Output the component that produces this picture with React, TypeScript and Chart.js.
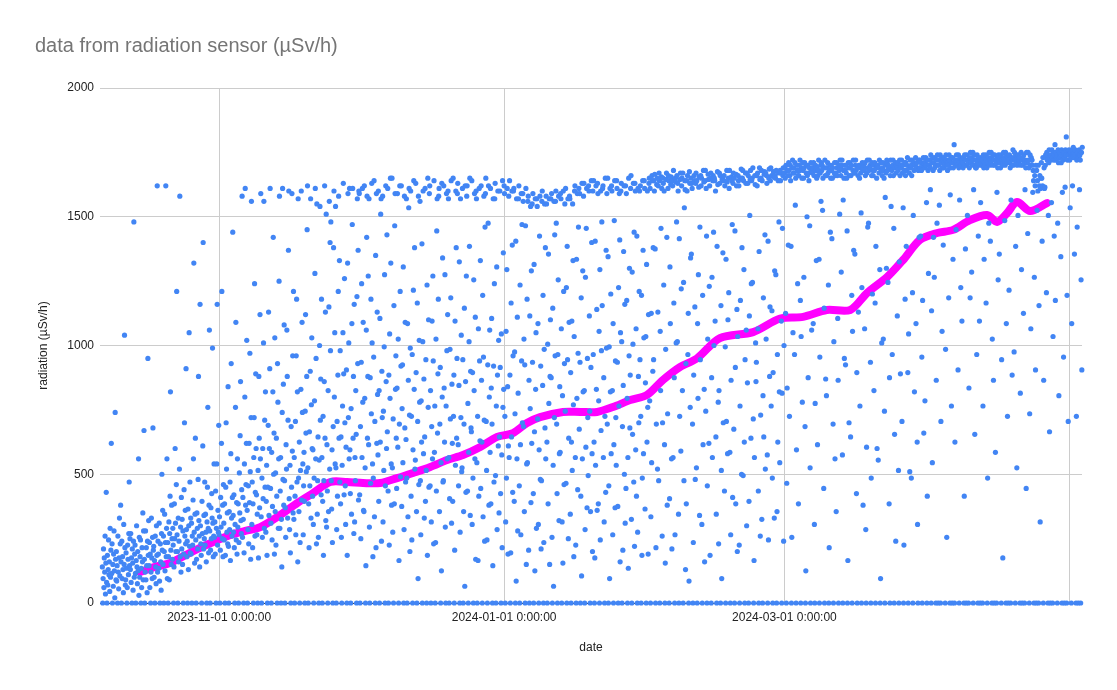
import { useEffect, useRef } from "react";
import { Chart, registerables } from "chart.js";

Chart.register(...registerables);

// sensor readings every 2 hours (12 per day), one line per day
const READS_PER_DAY = 12;

const octReadings = [
  140, 0, 95, 210, 60, 175, 120, 260, 35, 155, 430, 80,
  0, 185, 70, 130, 245, 110, 160, 45, 290, 100, 205, 620,
  115, 230, 0, 150, 65, 190, 280, 125, 20, 740, 170, 90,
  200, 85, 145, 0, 260, 120, 55, 175, 330, 105, 230, 380,
  160, 0, 240, 95, 180, 130, 40, 305, 150, 1040, 215, 70,
  90, 195, 135, 0, 60, 225, 170, 110, 270, 470, 145, 250,
  130, 270, 80, 175, 0, 210, 155, 50, 240, 1480, 100, 190,
  225, 115, 0, 165, 300, 140, 75, 200, 125, 560, 30, 255,
  100, 180, 245, 0, 135, 60, 215, 160, 350, 90, 280, 670,
  170, 0, 120, 280, 90, 215, 145, 40, 240, 950, 185, 320,
  145, 235, 60, 190, 0, 120, 330, 175, 95, 255, 680, 205,
  220, 100, 165, 0, 260, 140, 75, 300, 185, 1620, 120, 240,
  190, 135, 310, 85, 0, 230, 160, 50, 270, 500, 205, 360,
  150, 260, 0, 200, 345, 125, 235, 1620, 180, 290, 560, 95,
  235, 0, 180, 315, 90, 270, 415, 820, 205, 150, 380, 250,
  170, 290, 225, 0, 140, 385, 250, 600, 310, 200, 460, 1210,
  265, 200, 0, 330, 160, 240, 520, 1580, 180, 295, 120, 410,
  210, 325, 150, 280, 0, 190, 440, 700, 260, 360, 230, 910,
  285, 180, 240, 0, 365, 130, 300, 1050, 220, 470, 195, 330,
  190, 310, 0, 260, 225, 400, 560, 1320, 275, 155, 345, 640,
  245, 0, 170, 350, 290, 210, 480, 880, 320, 260, 140, 1160,
  300, 230, 185, 0, 395, 270, 610, 1400, 210, 340, 250, 470,
  225, 345, 275, 160, 0, 315, 450, 760, 290, 195, 380, 1060,
  280, 0, 205, 370, 250, 425, 330, 990, 310, 180, 260, 540,
  255, 315, 190, 435, 0, 290, 540, 1160, 225, 360, 275, 690,
];

const novReadings = [
  265, 335, 0, 205, 410, 295, 620, 1210, 250, 380, 180, 460,
  310, 245, 385, 0, 185, 450, 700, 520, 275, 350, 230, 840,
  220, 0, 355, 285, 470, 165, 580, 930, 330, 260, 410, 1440,
  340, 275, 420, 215, 0, 305, 760, 1090, 245, 390, 190, 560,
  295, 385, 0, 235, 505, 350, 650, 860, 320, 270, 440, 1580,
  255, 410, 325, 0, 195, 540, 800, 1610, 380, 460, 620, 1020,
  360, 0, 285, 455, 230, 620, 390, 970, 510, 170, 720, 1560,
  305, 470, 215, 385, 0, 565, 720, 1240, 260, 430, 890, 600,
  420, 265, 345, 0, 515, 175, 880, 640, 370, 1120, 560, 1590,
  335, 0, 485, 255, 600, 405, 1010, 1560, 290, 710, 450, 820,
  275, 395, 535, 185, 0, 450, 690, 1130, 340, 600, 910, 1610,
  445, 310, 0, 585, 245, 375, 820, 1420, 500, 660, 190, 1030,
  355, 505, 225, 640, 415, 0, 930, 780, 290, 560, 1250, 1580,
  290, 435, 565, 0, 325, 140, 740, 1610, 480, 850, 380, 1080,
  475, 0, 370, 255, 615, 520, 1060, 880, 330, 710, 1370, 1600,
  405, 285, 535, 195, 0, 685, 450, 1590, 590, 960, 350, 1210,
  325, 565, 0, 415, 705, 265, 960, 1180, 470, 820, 160, 1570,
  485, 355, 625, 0, 235, 515, 830, 1600, 400, 1090, 740, 540,
  265, 455, 585, 395, 0, 745, 1120, 660, 510, 880, 1450, 1620,
  525, 0, 385, 215, 665, 455, 900, 1570, 330, 770, 1030, 600,
  415, 595, 305, 0, 485, 785, 1280, 1610, 560, 950, 230, 1550,
  345, 475, 645, 255, 0, 555, 1000, 1540, 710, 870, 420, 1180,
  565, 0, 395, 725, 185, 475, 860, 1620, 640, 1130, 320, 1510,
  295, 615, 435, 0, 825, 355, 1150, 1560, 520, 1400, 980, 1480,
  475, 365, 595, 235, 0, 685, 1380, 1600, 800, 1050, 540, 1540,
  525, 0, 285, 705, 415, 885, 1210, 1580, 640, 1330, 470, 980,
  385, 645, 255, 0, 535, 765, 1050, 1630, 890, 420, 1260, 700,
  455, 305, 605, 905, 0, 185, 1320, 1590, 720, 1010, 560, 1610,
  595, 425, 0, 755, 345, 1085, 1470, 1610, 640, 880, 270, 1160,
  315, 565, 475, 825, 655, 0, 1190, 1570, 930, 1370, 400, 1600,
];

const decReadings = [
  1590, 420, 0, 685, 250, 935, 1240, 565, 1610, 780, 1090, 360,
  355, 1620, 795, 525, 0, 145, 1060, 1420, 1580, 640, 880, 1270,
  615, 1570, 295, 0, 875, 465, 1180, 735, 1630, 1010, 540, 180,
  485, 955, 1640, 335, 705, 0, 1350, 215, 1590, 620, 1130, 810,
  575, 1600, 395, 825, 0, 1105, 625, 1510, 1570, 240, 900, 720,
  1580, 315, 745, 515, 995, 1275, 0, 455, 1620, 860, 600, 1430,
  665, 1610, 435, 0, 885, 225, 1045, 795, 1650, 1320, 540, 380,
  1650, 525, 275, 715, 0, 1155, 385, 1465, 1590, 830, 960, 640,
  445, 835, 1590, 605, 1025, 0, 165, 695, 1620, 1210, 490, 920,
  1620, 375, 755, 925, 545, 1305, 0, 285, 1580, 680, 1090, 470,
  635, 1570, 485, 0, 1085, 335, 865, 1535, 1610, 730, 200, 990,
  1600, 415, 725, 245, 965, 0, 595, 1215, 1640, 830, 1380, 520,
  555, 1630, 895, 355, 0, 1165, 705, 95, 1580, 460, 1020, 780,
  1560, 475, 265, 785, 625, 1395, 0, 1015, 1600, 580, 870, 330,
  645, 1610, 395, 945, 515, 0, 1235, 185, 1650, 760, 1100, 450,
  1590, 1620, 455, 825, 0, 315, 685, 1095, 560, 1270, 940, 230,
  1640, 585, 765, 0, 235, 1025, 435, 1445, 1570, 660, 890, 1180,
  1580, 1610, 355, 695, 915, 0, 545, 125, 1630, 800, 1340, 470,
  475, 1620, 835, 625, 1275, 295, 0, 765, 1590, 980, 560, 1120,
  1600, 1570, 565, 0, 405, 985, 715, 1185, 1640, 310, 850, 620,
  395, 1650, 725, 885, 0, 205, 1095, 535, 1600, 1380, 640, 950,
  1590, 1630, 615, 455, 845, 1325, 0, 275, 1570, 720, 1040, 510,
  525, 1610, 945, 0, 355, 695, 1145, 65, 1620, 860, 430, 1270,
  1580, 1620, 435, 775, 0, 585, 1015, 1385, 1650, 340, 900, 680,
  665, 1640, 305, 895, 485, 0, 1255, 825, 1590, 560, 1110, 170,
  1600, 1570, 545, 0, 725, 165, 1065, 415, 1610, 940, 630, 1330,
  445, 1620, 865, 625, 0, 1195, 335, 955, 1580, 710, 240, 1460,
  1590, 1650, 705, 515, 245, 0, 925, 1475, 1620, 380, 800, 1060,
  585, 1610, 385, 835, 1105, 695, 0, 145, 1570, 920, 470, 1240,
  1570, 1630, 495, 0, 765, 1305, 285, 885, 1600, 610, 1020, 350,
  645, 1600, 915, 425, 0, 1045, 575, 215, 1640, 760, 1360, 830,
];

const janReadings = [
  1620, 1590, 725, 0, 315, 1055, 485, 1295, 1610, 840, 190, 610,
  1580, 565, 1640, 885, 0, 195, 1165, 645, 1600, 1390, 430, 960,
  1600, 1610, 395, 975, 735, 0, 1405, 85, 1570, 560, 1110, 280,
  815, 1570, 1620, 455, 0, 1235, 615, 265, 1590, 940, 1470, 700,
  1590, 1560, 685, 1025, 355, 925, 0, 1465, 1610, 150, 540, 1180,
  545, 1560, 1580, 205, 865, 0, 1115, 755, 1540, 390, 1290, 620,
  1550, 935, 1590, 425, 0, 1315, 665, 125, 1570, 830, 1050, 290,
  1570, 1540, 715, 1085, 305, 0, 595, 1425, 1580, 480, 920, 210,
  475, 1560, 1600, 845, 1195, 0, 235, 985, 1550, 680, 1380, 560,
  1580, 1550, 625, 0, 1005, 385, 1355, 775, 1570, 150, 880, 1100,
  1570, 875, 1590, 255, 0, 1145, 535, 65, 1560, 720, 1430, 960,
  1560, 1600, 1475, 695, 425, 0, 965, 1255, 1580, 320, 580, 840,
  585, 1590, 1570, 1065, 0, 315, 805, 155, 1600, 1210, 460, 930,
  1550, 745, 1610, 465, 1225, 0, 1385, 945, 1570, 250, 640, 1090,
  1580, 1570, 345, 895, 0, 625, 1095, 515, 1550, 1330, 770, 180,
  1035, 1600, 1620, 565, 225, 0, 1335, 795, 1590, 440, 970, 1460,
  1610, 675, 1590, 935, 0, 415, 1185, 105, 1630, 560, 1290, 820,
  1580, 1630, 825, 0, 285, 1265, 605, 1455, 1610, 370, 950, 720,
  495, 1620, 1600, 1115, 745, 0, 355, 915, 1640, 1400, 580, 200,
  1600, 965, 1640, 625, 0, 175, 1405, 535, 1620, 830, 1140, 360,
  1630, 1590, 385, 785, 1055, 0, 1295, 245, 1600, 670, 980, 1480,
  1155, 1610, 1620, 565, 875, 315, 0, 725, 1650, 430, 1370, 990,
  1590, 695, 1650, 1345, 0, 455, 995, 95, 1610, 820, 1200, 580,
  1620, 1600, 825, 265, 1085, 0, 615, 1485, 1640, 370, 940, 720,
  535, 1640, 1610, 935, 375, 0, 1225, 765, 1590, 1410, 160, 1050,
  1600, 1630, 1015, 0, 685, 205, 845, 1365, 1620, 500, 1160, 310,
  1620, 445, 1590, 1175, 795, 0, 565, 135, 1650, 960, 1300, 680,
  885, 1610, 1660, 325, 0, 1285, 655, 1005, 1630, 470, 1440, 220,
  1630, 1600, 595, 1065, 415, 1425, 0, 275, 1610, 880, 700, 1210,
  1600, 945, 1620, 725, 0, 1195, 185, 485, 1640, 1370, 580, 1030,
  1640, 1610, 365, 855, 1035, 0, 1315, 625, 1600, 760, 190, 1120,
];

const febReadings = [
  1630, 1650, 785, 1610, 0, 335, 1125, 545, 1660, 1640, 900, 1380,
  945, 1640, 1600, 1665, 1375, 0, 215, 695, 1625, 1650, 520, 1130,
  1620, 475, 1670, 1640, 0, 1055, 825, 1455, 1655, 1610, 260, 700,
  1650, 1630, 1235, 1600, 615, 0, 155, 985, 1645, 1670, 1420, 380,
  735, 1610, 1660, 1640, 0, 405, 1305, 1085, 1625, 1655, 560, 210,
  1640, 1620, 565, 1680, 1165, 875, 0, 265, 1650, 1635, 1010, 1480,
  1660, 1015, 1630, 1600, 345, 0, 1415, 725, 1645, 1670, 590, 1220,
  1620, 1650, 825, 1670, 0, 1245, 475, 1535, 1640, 1605, 130, 930,
  385, 1640, 1600, 1660, 965, 1125, 0, 85, 1675, 1630, 760, 1340,
  1650, 1355, 1630, 1610, 695, 0, 235, 885, 1660, 1640, 1150, 480,
  1630, 1670, 525, 1640, 0, 1085, 795, 1275, 1615, 1655, 340, 1460,
  945, 1660, 1620, 1650, 305, 0, 1195, 615, 1680, 1635, 830, 160,
  1640, 1680, 745, 1610, 1425, 0, 455, 1025, 1665, 1645, 620, 1230,
  1620, 185, 1650, 1670, 0, 875, 1265, 565, 1640, 1660, 1440, 1000,
  1650, 1640, 1095, 1600, 645, 345, 0, 1385, 1675, 1625, 780, 230,
  825, 1670, 1630, 1660, 0, 1155, 515, 95, 1645, 1650, 1360, 700,
  1640, 1660, 435, 1620, 995, 0, 1335, 705, 1680, 1635, 580, 1100,
  1650, 1205, 1610, 1680, 585, 0, 265, 865, 1655, 1640, 1470, 410,
  1630, 1670, 675, 1650, 0, 1445, 915, 385, 1665, 1620, 1140, 200,
  1035, 1660, 1640, 1620, 225, 0, 765, 1175, 1650, 1685, 500, 1380,
  1650, 1680, 495, 1640, 1295, 625, 0, 945, 1670, 1630, 1060, 300,
  1670, 855, 1630, 1660, 0, 395, 1115, 1505, 1645, 1680, 640, 1240,
  1640, 1650, 1245, 1690, 715, 0, 165, 565, 1660, 1625, 1010, 860,
  935, 1660, 1620, 1670, 1065, 435, 0, 1365, 1690, 1645, 260, 730,
  1650, 1680, 325, 1640, 0, 805, 1185, 645, 1665, 1675, 1430, 520,
  1670, 1025, 1660, 1630, 575, 0, 1405, 245, 1650, 1685, 880, 1150,
  1640, 1690, 765, 1660, 1135, 485, 0, 895, 1675, 1655, 330, 1290,
  1660, 1650, 1275, 1680, 0, 355, 965, 625, 1640, 1670, 1480, 820,
  545, 1680, 1640, 1670, 1095, 0, 815, 1455, 1660, 1690, 240, 1000,
];

const marReadings = [
  1670, 1690, 1650, 1125, 1700, 0, 465, 835, 1680, 1660, 1390, 1710,
  1680, 725, 1660, 1700, 1640, 1385, 0, 255, 1690, 1720, 1050, 1670,
  1690, 1670, 965, 1710, 1545, 1650, 0, 595, 1700, 1680, 1240, 1660,
  385, 1660, 1700, 1680, 1720, 1175, 0, 1035, 1690, 1650, 780, 1710,
  1680, 1650, 1265, 1690, 1710, 685, 0, 125, 1670, 1700, 1500, 1660,
  1700, 875, 1670, 1640, 1690, 1465, 525, 0, 1710, 1680, 1060, 1690,
  1670, 1690, 1085, 1710, 1660, 305, 0, 775, 1700, 1680, 1330, 1650,
  1690, 615, 1660, 1680, 1720, 1335, 0, 955, 1670, 1700, 1560, 1710,
  1680, 1700, 1525, 1650, 1690, 445, 1145, 0, 1720, 1660, 870, 1690,
  805, 1660, 1690, 1710, 1670, 1235, 0, 215, 1680, 1700, 1440, 1650,
  1700, 1680, 1415, 1650, 1690, 695, 0, 1015, 1670, 1710, 560, 1660,
  1670, 355, 1710, 1690, 1660, 1105, 865, 0, 1700, 1680, 1510, 1720,
  1690, 1660, 1285, 1700, 1720, 575, 0, 1565, 1680, 1650, 950, 1700,
  1680, 925, 1700, 1670, 1650, 1445, 0, 165, 1710, 1690, 700, 1660,
  1710, 1690, 645, 1660, 1700, 1195, 0, 1055, 1680, 1720, 1370, 1670,
  1670, 1355, 1700, 1720, 1680, 425, 895, 0, 1690, 1660, 1130, 1700,
  1690, 1650, 765, 1700, 1670, 1515, 0, 1225, 1710, 1680, 380, 1690,
  1700, 1680, 1065, 1710, 1660, 285, 0, 605, 1670, 1720, 1460, 1690,
  1475, 1680, 1720, 1690, 1700, 935, 0, 485, 1660, 1710, 1200, 1680,
  1660, 1700, 825, 1680, 1710, 1165, 0, 1385, 1690, 1650, 600, 1700,
  1700, 555, 1690, 1670, 1720, 1295, 0, 95, 1710, 1680, 1010, 1660,
  1690, 1710, 1025, 1680, 1650, 745, 0, 1575, 1700, 1670, 1300, 1720,
  1710, 1680, 1245, 1700, 1690, 385, 875, 0, 1660, 1720, 1540, 1690,
  1680, 965, 1700, 1720, 1660, 1455, 0, 655, 1690, 1710, 240, 1670,
  1700, 1690, 1115, 1710, 1680, 515, 0, 1325, 1720, 1660, 890, 1700,
  1690, 1720, 705, 1670, 1700, 1535, 0, 225, 1680, 1710, 1180, 1660,
  1710, 1385, 1680, 1700, 1730, 895, 0, 1045, 1690, 1670, 510, 1720,
  1690, 1700, 485, 1660, 1720, 1205, 0, 1505, 1710, 1680, 820, 1700,
  1700, 1730, 1085, 1690, 1710, 625, 305, 0, 1680, 1720, 1420, 1690,
  1720, 1690, 1425, 1710, 1680, 955, 0, 1175, 1700, 1730, 660, 1710,
  1690, 785, 1710, 1730, 1700, 1555, 0, 415, 1720, 1680, 1280, 1700,
];

const aprReadings = [
  1700, 1720, 1690, 1605, 1740, 0, 1135, 1710, 545, 1730, 1680, 1420,
  1710, 1265, 1690, 1730, 1700, 0, 865, 1720, 1475, 1740, 1700, 0,
  1720, 1700, 1545, 1680, 1740, 0, 705, 1710, 1730, 1055, 1690, 1720,
  1390, 1690, 1730, 1710, 1700, 0, 985, 1740, 1720, 255, 1700, 1680,
  1710, 1700, 1185, 1740, 1720, 0, 1585, 1690, 1730, 765, 1710, 0,
  1730, 1335, 1690, 1710, 1780, 0, 625, 1720, 1700, 1450, 1740, 1710,
  1700, 1720, 905, 1740, 1690, 0, 1565, 1710, 1730, 1225, 1700, 1720,
  1095, 1720, 1710, 1690, 1730, 0, 415, 1740, 1700, 1375, 1720, 0,
  1740, 1700, 1505, 1720, 1710, 0, 835, 1690, 1730, 1185, 1750, 1710,
  1710, 1285, 1730, 1700, 1750, 0, 1605, 1720, 1740, 655, 1700, 1690,
  1720, 1690, 965, 1740, 1710, 0, 1425, 1730, 1700, 1095, 1720, 0,
  1555, 1730, 1710, 1700, 1720, 0, 765, 1740, 1690, 1335, 1710, 1730,
  1700, 1740, 1165, 1720, 1690, 0, 485, 1710, 1730, 1475, 1750, 1700,
  1720, 1405, 1710, 1750, 1730, 0, 1025, 1700, 1740, 865, 1720, 0,
  1740, 1700, 585, 1720, 1710, 0, 1595, 1730, 1690, 1255, 1740, 1720,
  1355, 1710, 1730, 1690, 1740, 0, 945, 1720, 1700, 175, 1710, 1750,
  1730, 1720, 1485, 1700, 1750, 0, 1085, 1740, 1710, 725, 1730, 0,
  1720, 1215, 1740, 1710, 1690, 0, 1565, 1730, 1700, 885, 1720, 1760,
  1700, 1730, 975, 1750, 1720, 0, 1385, 1710, 1740, 525, 1700, 1730,
  1505, 1740, 1710, 1720, 1730, 0, 815, 1700, 1750, 1295, 1720, 0,
  1730, 1700, 1125, 1740, 1710, 0, 1605, 1720, 1690, 445, 1750, 1710,
  1710, 1435, 1750, 1720, 1690, 0, 735, 1740, 1700, 1065, 1730, 1720,
  1720, 1700, 1595, 1680, 1640, 0, 1265, 1660, 1620, 905, 1700, 0,
  1680, 1525, 1640, 1600, 1700, 0, 1155, 1620, 1660, 315, 1610, 1650,
  1710, 1650, 1405, 1620, 1730, 0, 865, 1690, 1610, 1615, 1700, 1740,
  1730, 1205, 1750, 1720, 1740, 0, 1505, 1710, 1760, 665, 1730, 0,
  1740, 1720, 1555, 1760, 1730, 0, 1035, 1750, 1720, 1425, 1740, 1780,
  1175, 1720, 1750, 1730, 1740, 0, 1475, 1760, 1710, 805, 1730, 1750,
  1750, 1730, 1345, 1710, 1760, 0, 1595, 1740, 1720, 955, 1750, 0,
  1730, 1615, 1760, 1740, 1810, 0, 1195, 1720, 1750, 705, 1740, 1760,
];

const mayReadings = [
  1740, 1720, 1535, 1750, 1730, 0, 1085, 1760, 1620, 1740, 1770, 1730,
  1750, 1355, 1730, 1760, 1740, 0, 725, 1720, 1460, 1750, 1730, 0,
  1730, 1760, 1605, 1740, 1720, 0, 1255, 1750, 905, 1770, 1740, 1730,
  1750, 1395, 1740, 1720, 1770, 0, 1565, 1730, 835, 1760, 1740, 1750,
];

// first day of each block of readings
const readingBlocks = [
  { start: "2023-10-07", values: octReadings },
  { start: "2023-11-01", values: novReadings },
  { start: "2023-12-01", values: decReadings },
  { start: "2024-01-01", values: janReadings },
  { start: "2024-02-01", values: febReadings },
  { start: "2024-03-01", values: marReadings },
  { start: "2024-04-01", values: aprReadings },
  { start: "2024-05-01", values: mayReadings },
];

// trend series (magenta), days since 2023-11-01
const trendDays = [
  -17, -13.7, -10.5, -7.3, -4.1, -0.9, 2.4, 5.6, 8.8, 13.1, 16.7, 20.1, 23.8, 27.4,
  30.8, 34.5, 38.1, 41.5, 45.2, 48.8, 52.2, 55.9, 59.5, 62.9, 65.9, 68.7, 73.6, 77.3,
  80.9, 84.3, 88, 91.6, 95, 98.7, 102.3, 107.2, 114.3, 120.1, 125, 130.1, 135.1, 138.7,
  143, 146.4, 150, 153.7, 157.1, 160.7, 164.4, 166.5, 168.7, 170.8, 173.6, 177.2,
];
const trendValues = [
  120, 140, 155, 185, 214, 240, 264, 280, 295, 342, 388, 427, 470, 470,
  466, 466, 485, 505, 528, 555, 575, 606, 645, 660, 699, 722, 742, 742,
  742, 761, 788, 808, 866, 917, 950, 1029, 1052, 1105, 1111, 1138, 1138, 1204,
  1266, 1332, 1410, 1437, 1449, 1487, 1507, 1480, 1515, 1557, 1522, 1553,
];

const xTickDates = ["2023-11-01", "2024-01-01", "2024-03-01", "2024-05-01"];
const xTickLabels = ["2023-11-01 0:00:00", "2024-01-01 0:00:00", "2024-03-01 0:00:00", ""];
const yTicks = [0, 500, 1000, 1500, 2000];

const ORIGIN = Date.UTC(2023, 10, 1);
const toDay = (iso: string) => {
  const [y, m, d] = iso.split("-").map(Number);
  return (Date.UTC(y, m - 1, d) - ORIGIN) / 86400000;
};

const FONT = "Arial, 'Liberation Sans', sans-serif";

export default function App() {
  const canvasRef = useRef<HTMLCanvasElement>(null);

  useEffect(() => {
    const canvas = canvasRef.current;
    if (!canvas) return;

    const points: { x: number; y: number }[] = [];
    readingBlocks.forEach((block) => {
      const first = toDay(block.start);
      block.values.forEach((v, i) => points.push({ x: first + i / READS_PER_DAY, y: v }));
    });
    const trend = trendDays.map((d, i) => ({ x: d, y: trendValues[i] }));
    const tickDays = xTickDates.map(toDay);

    const chart = new Chart(canvas, {
      type: "scatter",
      data: {
        datasets: [
          {
            label: "radiation",
            data: points,
            backgroundColor: "#4285f4",
            borderWidth: 0,
            pointRadius: 2.6,
            pointHoverRadius: 2.6,
            clip: 3,
            order: 1,
          },
          {
            type: "line",
            label: "trend",
            data: trend,
            borderColor: "#ff00ff",
            borderWidth: 8,
            borderCapStyle: "round",
            borderJoinStyle: "round",
            pointRadius: 0,
            tension: 0.3,
            order: 2,
          },
        ],
      },
      options: {
        animation: false,
        responsive: true,
        maintainAspectRatio: false,
        events: [],
        layout: { padding: { left: 35, right: 35, top: 0, bottom: 0 } },
        plugins: {
          legend: { display: false },
          tooltip: { enabled: false },
          title: {
            display: true,
            text: "data from radiation sensor (µSv/h)",
            align: "start",
            color: "#757575",
            font: { family: FONT, size: 20, weight: "normal" },
            padding: { top: 34, bottom: 30 },
          },
        },
        scales: {
          x: {
            type: "linear",
            min: -25.5,
            max: 184.7,
            afterFit: (scale) => {
              scale.height = 87;
            },
            afterBuildTicks: (scale) => {
              scale.ticks = tickDays.map((v) => ({ value: v }));
            },
            ticks: {
              autoSkip: false,
              maxRotation: 0,
              minRotation: 0,
              padding: 7,
              color: "#222",
              font: { family: FONT, size: 12 },
              callback: (_v, i) => xTickLabels[i],
            },
            grid: { color: "#cccccc", drawTicks: false },
            border: { display: true, color: "#333333", width: 1 },
            title: {
              display: true,
              text: "date",
              color: "#222",
              font: { family: FONT, size: 12 },
              padding: { top: 0, bottom: 35 },
            },
          },
          y: {
            min: 0,
            max: 2000,
            afterFit: (scale) => {
              scale.width = 65;
            },
            afterBuildTicks: (scale) => {
              scale.ticks = yTicks.map((v) => ({ value: v }));
            },
            ticks: {
              padding: 6,
              color: "#222",
              font: { family: FONT, size: 12 },
              callback: (v) => String(v),
            },
            grid: { color: "#cccccc", drawTicks: false },
            border: { display: false },
            title: {
              display: true,
              text: "radiation (µSv/h)",
              color: "#222",
              font: { family: FONT, size: 12 },
              padding: { top: 1, bottom: 0 },
            },
          },
        },
      },
    });

    return () => chart.destroy();
  }, []);

  return (
    <div style={{ position: "fixed", left: 0, top: 0, width: 1117, height: 690, background: "#fff" }}>
      <canvas ref={canvasRef} />
    </div>
  );
}
